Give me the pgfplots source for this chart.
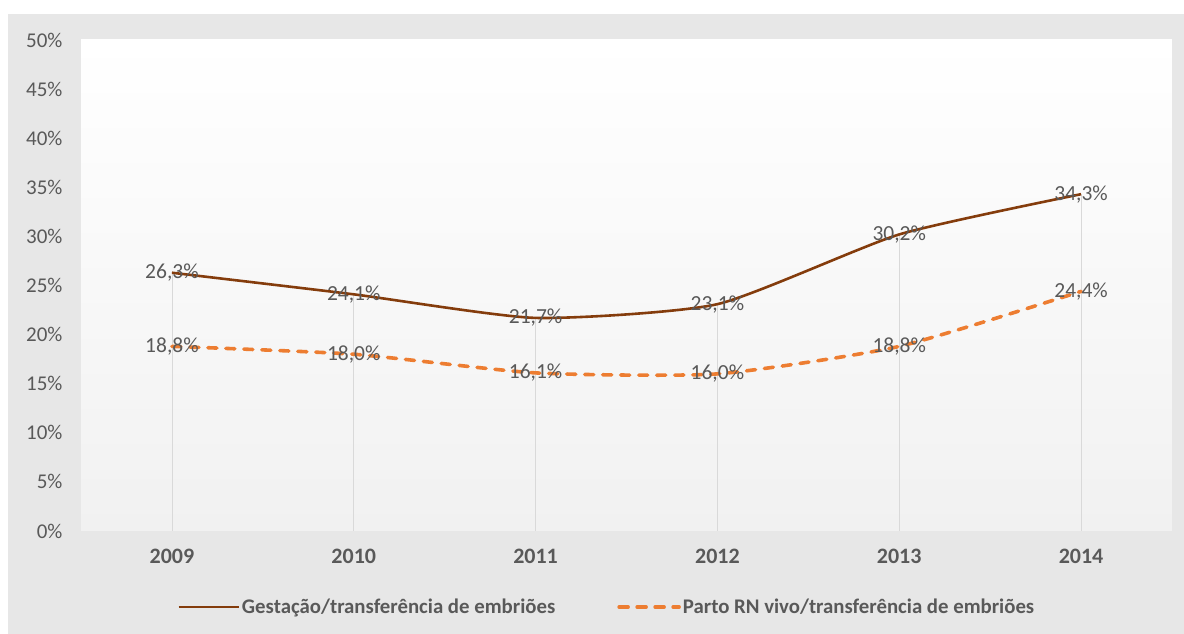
\documentclass[border=0pt]{standalone}
\usepackage{pgfplots}
\pgfplotsset{compat=1.18}
\usepackage{fontspec}
\setmainfont{Carlito}
\definecolor{bgout}{RGB}{231,231,231}
\definecolor{txt}{RGB}{89,89,89}
\definecolor{brown1}{RGB}{132,60,12}
\definecolor{orange1}{RGB}{237,125,49}
\definecolor{drop}{RGB}{217,217,217}
\definecolor{plotbot}{RGB}{241,241,241}
\begin{document}
\begin{tikzpicture}
\path[use as bounding box] (0,0) rectangle (1184bp,634bp);
\fill[bgout] (8bp,0) rectangle (1184bp,620bp);
\begin{axis}[
  at={(81bp,103bp)}, anchor=south west,
  scale only axis, width=1091bp, height=491bp,
  xmin=-0.5, xmax=5.5, ymin=0, ymax=50,
  axis line style={draw=none},
  axis background/.style={shade, top color=white, bottom color=plotbot},
  major tick length=0pt,
  xtick={0,...,5},
  xticklabels={2009,2010,2011,2012,2013,2014},
  xticklabel style={font=\fontsize{22bp}{26bp}\selectfont\bfseries, text=txt, yshift=-15bp},
  ytick={0,5,...,50},
  yticklabel={\pgfmathparse{int(\tick)}\pgfmathresult\%},
  yticklabel style={font=\fontsize{21bp}{25bp}\selectfont, text=txt, anchor=east, xshift=-15bp},
  legend columns=2,
  legend style={at={(axis description cs:0.482,-0.155)}, anchor=center, draw=none, fill=none,
    font=\fontsize{20.8bp}{24bp}\selectfont\bfseries, text=txt,
    nodes={inner xsep=2bp},
    /tikz/every even column/.append style={column sep=60bp}},
  legend image code/.code={\draw[#1] (0bp,0bp) -- (60bp,0bp);},
  nodes near coords={\pgfmathprintnumber[fixed,fixed zerofill,precision=1,use comma,assume math mode=true]{\pgfplotspointmeta}\%},
  every node near coord/.append style={anchor=center, font=\fontsize{21.5bp}{25bp}\selectfont, text=txt},
]
\addplot[ycomb, drop, line width=0.8bp, forget plot, nodes near coords={}] coordinates {(0,26.3) (1,24.1) (2,21.7) (3,23.1) (4,30.2) (5,34.3)};
\addplot[brown1, line width=2.6bp, smooth, tension=0.35] coordinates {(0,26.3) (1,24.1) (2,21.7) (3,23.1) (4,30.2) (5,34.3)};
\addlegendentry{Gestação/transferência de embriões}
\addplot[orange1, line width=3.6bp, smooth, tension=0.35, dash pattern=on 9bp off 9bp, line cap=round] coordinates {(0,18.8) (1,18.0) (2,16.1) (3,16.0) (4,18.8) (5,24.4)};
\addlegendentry{Parto RN vivo/transferência de embriões}
\end{axis}
\end{tikzpicture}
\end{document}
